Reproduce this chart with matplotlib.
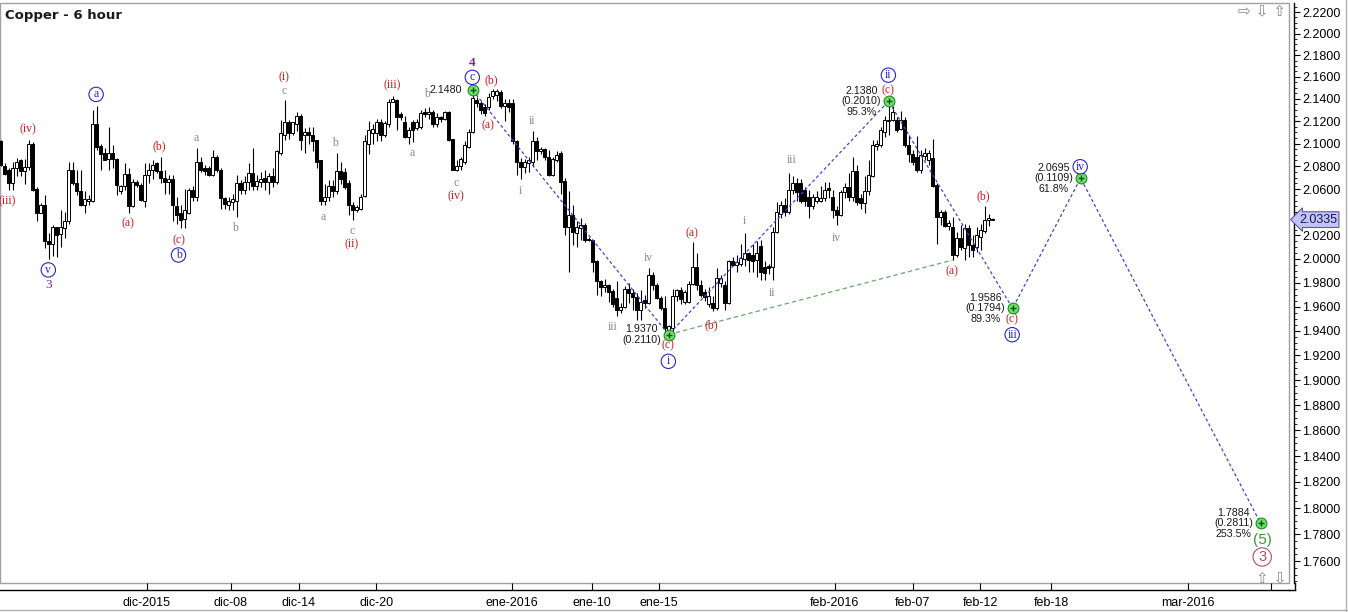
import numpy as np
import matplotlib
matplotlib.use('Agg')
import matplotlib.pyplot as plt
from matplotlib.ticker import FixedLocator, FuncFormatter, NullFormatter
from matplotlib.patches import Rectangle
from matplotlib.lines import Line2D

# 6-hour candles, one per bar index
opens = [
    2.102, 2.080, 2.077, 2.065, 2.078, 2.085, 2.076, 2.0795, 2.0995, 2.060,
    2.0395, 2.046, 2.015, 2.013, 2.027, 2.021, 2.026, 2.032, 2.0766, 2.0655,
    2.0585, 2.046, 2.050, 2.050, 2.117, 2.098, 2.092, 2.086, 2.092, 2.086,
    2.058, 2.063, 2.073, 2.045, 2.066, 2.0635, 2.050, 2.072, 2.0766, 2.0825,
    2.076, 2.070, 2.0665, 2.069, 2.045, 2.039, 2.034, 2.039, 2.059, 2.053,
    2.084, 2.078, 2.078, 2.072, 2.088, 2.077, 2.052, 2.046, 2.049, 2.050,
    2.065, 2.059, 2.066, 2.074, 2.063, 2.066, 2.070, 2.066, 2.071, 2.066,
    2.092, 2.108, 2.119, 2.109, 2.117, 2.125, 2.108, 2.110, 2.108, 2.103,
    2.085, 2.050, 2.053, 2.063, 2.058, 2.076, 2.075, 2.065, 2.046, 2.042,
    2.043, 2.054, 2.100, 2.109, 2.109, 2.119, 2.108, 2.117, 2.137, 2.139,
    2.126, 2.119, 2.106, 2.119, 2.114, 2.115, 2.128, 2.126, 2.128, 2.117,
    2.124, 2.122, 2.128, 2.104, 2.077, 2.080, 2.084, 2.097, 2.110, 2.139,
    2.136, 2.133, 2.133, 2.1425, 2.1435, 2.146, 2.134, 2.136, 2.136, 2.102,
    2.084, 2.079, 2.083, 2.084, 2.102, 2.093, 2.095, 2.088, 2.072, 2.085,
    2.092, 2.067, 2.0275, 2.0375, 2.022, 2.026, 2.029, 2.017, 2.016, 1.998,
    1.981, 1.976, 1.978, 1.973, 1.967, 1.957, 1.960, 1.975, 1.971, 1.968,
    1.957, 1.9657, 1.963, 1.9865, 1.978, 1.967, 1.959, 1.941, 1.9425, 1.969,
    1.9735, 1.964, 1.964, 1.979, 1.993, 1.978, 1.972, 1.962, 1.963, 1.959,
    1.980, 1.978, 1.963, 1.998, 1.995, 1.996, 2.000, 2.005, 2.003, 1.999,
    2.011, 1.993, 1.994, 1.993, 2.023, 2.0385, 2.046, 2.040, 2.059, 2.065,
    2.065, 2.059, 2.053, 2.045, 2.050, 2.050, 2.052, 2.061, 2.053, 2.042,
    2.0375, 2.057, 2.062, 2.053, 2.076, 2.052, 2.048, 2.058, 2.071, 2.098,
    2.099, 2.110, 2.120, 2.121, 2.121, 2.113, 2.121, 2.099, 2.091, 2.088,
    2.077, 2.089, 2.085, 2.087, 2.0635, 2.036, 2.040, 2.028, 2.027, 2.003,
    2.0175, 2.009, 2.026, 2.012, 2.010, 2.019, 2.0235, 2.033, 2.0335]
highs = [
    2.103, 2.083, 2.078, 2.084, 2.087, 2.086, 2.086, 2.103, 2.101, 2.062,
    2.0475, 2.055, 2.022, 2.029, 2.0275, 2.042, 2.040, 2.084, 2.084, 2.0766,
    2.0766, 2.058, 2.055, 2.130, 2.134, 2.0995, 2.096, 2.1145, 2.0986, 2.087,
    2.0635, 2.0825, 2.078, 2.069, 2.068, 2.065, 2.083, 2.0825, 2.0854, 2.084,
    2.088, 2.0766, 2.072, 2.072, 2.053, 2.046, 2.060, 2.061, 2.063, 2.096,
    2.088, 2.081, 2.080, 2.094, 2.090, 2.078, 2.053, 2.053, 2.056, 2.072,
    2.068, 2.071, 2.083, 2.096, 2.072, 2.075, 2.077, 2.074, 2.078, 2.094,
    2.121, 2.139, 2.121, 2.119, 2.128, 2.126, 2.114, 2.115, 2.115, 2.103,
    2.085, 2.064, 2.068, 2.068, 2.092, 2.084, 2.078, 2.068, 2.049, 2.046,
    2.056, 2.108, 2.120, 2.117, 2.122, 2.1215, 2.120, 2.140, 2.143, 2.140,
    2.128, 2.125, 2.115, 2.121, 2.122, 2.130, 2.132, 2.133, 2.130, 2.127,
    2.125, 2.129, 2.129, 2.104, 2.085, 2.088, 2.102, 2.113, 2.148, 2.142,
    2.138, 2.135, 2.145, 2.149, 2.149, 2.148, 2.140, 2.140, 2.140, 2.103,
    2.087, 2.086, 2.088, 2.111, 2.106, 2.097, 2.096, 2.094, 2.088, 2.093,
    2.093, 2.070, 2.058, 2.046, 2.032, 2.035, 2.031, 2.019, 2.016, 1.999,
    1.982, 1.983, 1.979, 1.975, 1.981, 1.963, 1.977, 1.980, 1.975, 1.971,
    1.974, 1.970, 1.992, 1.989, 1.980, 1.969, 1.969, 1.945, 1.975, 1.975,
    1.976, 1.974, 1.981, 2.014, 2.005, 1.982, 1.975, 1.976, 1.969, 1.992,
    1.986, 1.981, 1.999, 2.002, 2.003, 2.013, 2.022, 2.006, 2.013, 2.015,
    2.016, 1.998, 1.996, 2.027, 2.049, 2.050, 2.052, 2.074, 2.071, 2.070,
    2.069, 2.062, 2.059, 2.056, 2.058, 2.063, 2.066, 2.066, 2.059, 2.045,
    2.059, 2.065, 2.074, 2.088, 2.081, 2.056, 2.071, 2.085, 2.103, 2.103,
    2.115, 2.125, 2.138, 2.134, 2.124, 2.129, 2.124, 2.108, 2.094, 2.107,
    2.094, 2.096, 2.094, 2.104, 2.065, 2.042, 2.042, 2.033, 2.036, 2.023,
    2.029, 2.030, 2.029, 2.020, 2.0275, 2.030, 2.045, 2.038, 2.0345]
lows = [
    2.080, 2.072, 2.059, 2.059, 2.071, 2.071, 2.064, 2.0766, 2.0585, 2.032,
    2.039, 2.009, 1.9995, 2.0025, 2.002, 2.010, 2.0175, 2.030, 2.0635, 2.055,
    2.045, 2.0395, 2.046, 2.049, 2.094, 2.0766, 2.085, 2.0766, 2.078, 2.055,
    2.056, 2.059, 2.0395, 2.044, 2.062, 2.050, 2.044, 2.065, 2.069, 2.074,
    2.065, 2.056, 2.056, 2.032, 2.030, 2.026, 2.026, 2.038, 2.050, 2.050,
    2.075, 2.072, 2.071, 2.071, 2.075, 2.043, 2.043, 2.042, 2.042, 2.036,
    2.056, 2.056, 2.059, 2.059, 2.059, 2.062, 2.059, 2.056, 2.062, 2.064,
    2.090, 2.103, 2.104, 2.108, 2.111, 2.094, 2.092, 2.100, 2.093, 2.078,
    2.046, 2.046, 2.050, 2.053, 2.056, 2.064, 2.060, 2.0375, 2.033, 2.040,
    2.042, 2.053, 2.091, 2.100, 2.102, 2.102, 2.106, 2.115, 2.137, 2.112,
    2.121, 2.105, 2.100, 2.101, 2.112, 2.113, 2.124, 2.122, 2.115, 2.115,
    2.119, 2.121, 2.102, 2.077, 2.076, 2.077, 2.082, 2.096, 2.109, 2.133,
    2.126, 2.125, 2.130, 2.140, 2.138, 2.132, 2.120, 2.128, 2.100, 2.072,
    2.069, 2.074, 2.075, 2.079, 2.085, 2.091, 2.085, 2.071, 2.071, 2.084,
    2.056, 2.020, 1.989, 2.012, 2.010, 2.016, 2.014, 2.015, 1.989, 1.970,
    1.969, 1.972, 1.964, 1.960, 1.952, 1.955, 1.959, 1.963, 1.957, 1.949,
    1.949, 1.959, 1.962, 1.974, 1.966, 1.957, 1.9395, 1.937, 1.940, 1.9645,
    1.962, 1.962, 1.963, 1.978, 1.974, 1.968, 1.965, 1.960, 1.956, 1.957,
    1.976, 1.957, 1.962, 1.994, 1.989, 1.994, 1.994, 1.989, 1.989, 1.985,
    1.982, 1.982, 1.987, 1.982, 2.022, 2.035, 2.037, 2.038, 2.056, 2.050,
    2.048, 2.045, 2.035, 2.043, 2.048, 2.049, 2.050, 2.052, 2.035, 2.029,
    2.037, 2.052, 2.050, 2.050, 2.046, 2.043, 2.039, 2.055, 2.0705, 2.094,
    2.097, 2.106, 2.1075, 2.120, 2.110, 2.112, 2.097, 2.084, 2.081, 2.075,
    2.074, 2.085, 2.081, 2.062, 2.013, 2.029, 2.027, 2.025, 1.999, 2.002,
    2.0075, 1.999, 2.002, 2.002, 2.006, 2.0076, 2.022, 2.028, 2.0335]
closes = [
    2.081, 2.073, 2.065, 2.078, 2.084, 2.076, 2.0795, 2.0995, 2.059, 2.0395,
    2.046, 2.015, 2.013, 2.027, 2.020, 2.027, 2.032, 2.0766, 2.065, 2.0585,
    2.046, 2.051, 2.051, 2.117, 2.097, 2.091, 2.0854, 2.092, 2.086, 2.0635,
    2.063, 2.073, 2.045, 2.066, 2.0635, 2.0505, 2.072, 2.0766, 2.081, 2.076,
    2.070, 2.0665, 2.069, 2.046, 2.0375, 2.033, 2.042, 2.059, 2.053, 2.084,
    2.077, 2.076, 2.072, 2.088, 2.077, 2.052, 2.047, 2.050, 2.051, 2.065,
    2.059, 2.066, 2.074, 2.063, 2.067, 2.069, 2.066, 2.071, 2.066, 2.093,
    2.109, 2.119, 2.109, 2.119, 2.125, 2.103, 2.110, 2.108, 2.102, 2.084,
    2.050, 2.053, 2.063, 2.058, 2.076, 2.069, 2.062, 2.046, 2.042, 2.044,
    2.053, 2.102, 2.112, 2.113, 2.119, 2.108, 2.118, 2.137, 2.140, 2.124,
    2.124, 2.106, 2.112, 2.112, 2.119, 2.127, 2.126, 2.128, 2.117, 2.124,
    2.122, 2.128, 2.103, 2.077, 2.080, 2.086, 2.099, 2.110, 2.141, 2.136,
    2.130, 2.127, 2.142, 2.147, 2.147, 2.134, 2.136, 2.133, 2.102, 2.084,
    2.079, 2.084, 2.085, 2.102, 2.093, 2.095, 2.088, 2.072, 2.086, 2.090,
    2.066, 2.0275, 2.0375, 2.023, 2.027, 2.029, 2.016, 2.016, 1.997, 1.981,
    1.976, 1.978, 1.9725, 1.962, 1.957, 1.960, 1.975, 1.971, 1.968, 1.957,
    1.9635, 1.963, 1.9865, 1.978, 1.967, 1.959, 1.942, 1.944, 1.969, 1.9735,
    1.966, 1.9725, 1.979, 1.993, 1.978, 1.970, 1.968, 1.969, 1.959, 1.984,
    1.984, 1.963, 1.998, 1.995, 1.997, 2.001, 2.005, 1.999, 1.998, 2.005,
    1.989, 1.988, 1.992, 2.023, 2.040, 2.046, 2.040, 2.059, 2.065, 2.057,
    2.050, 2.050, 2.045, 2.053, 2.053, 2.052, 2.059, 2.059, 2.042, 2.0375,
    2.057, 2.062, 2.053, 2.076, 2.049, 2.048, 2.058, 2.072, 2.099, 2.100,
    2.112, 2.121, 2.121, 2.128, 2.112, 2.121, 2.099, 2.091, 2.084, 2.077,
    2.090, 2.092, 2.092, 2.063, 2.036, 2.040, 2.028, 2.031, 2.003, 2.0175,
    2.010, 2.026, 2.012, 2.0076, 2.020, 2.0245, 2.033, 2.035, 2.0335]
last_price = 2.0335

# projected wave path (bar index, price) and its labels
path_idx = [118, 167, 222, 253, 270, 315]
path_price = [2.1480, 1.9370, 2.1380, 1.9586, 2.0695, 1.7884]
path_text = ['2.1480', '1.9370\n(0.2110)', '2.1380\n(0.2010)\n95.3%',
             '1.9586\n(0.1794)\n89.3%', '2.0695\n(0.1109)\n61.8%',
             '1.7884\n(0.2811)\n253.5%']
base_idx = [167, 238]
base_price = [1.9370, 1.9990]

tick_idx = [36.6, 57.6, 74.6, 93.9, 127.9, 147.9, 164.6, 208.6, 228.1,
            244.9, 262.7, 296.8, 317.6]
tick_labels = ['dic-2015', 'dic-08', 'dic-14', 'dic-20', 'ene-2016', 'ene-10',
               'ene-15', 'feb-2016', 'feb-07', 'feb-12', 'feb-18', 'mar-2016', '']

# wave labels: (bar index, price, text)
red_labels = [(1.7, 2.0495, '(iii)'), (6.8, 2.1126, '(iv)'), (31.8, 2.0303, '(a)'),
              (39.6, 2.0977, '(b)'), (44.5, 2.0161, '(c)'), (70.9, 2.1601, '(i)'),
              (87.8, 2.0124, '(ii)'), (97.8, 2.1525, '(iii)'), (113.8, 2.0539, '(iv)'),
              (121.8, 2.1165, '(a)'), (122.8, 2.1571, '(b)'), (166.95, 1.9279, '(c)'),
              (172.8, 2.0218, '(a)'), (177.6, 1.9443, '(b)'), (221.95, 2.1474, '(c)'),
              (237.8, 1.9893, '(a)'), (245.7, 2.0533, '(b)'), (252.9, 1.9492, '(c)')]
gray_labels = [(48.9, 2.1051, 'a'), (58.7, 2.0260, 'b'), (70.9, 2.1474, 'c'),
               (80.7, 2.0360, 'a'), (83.6, 2.1001, 'b'), (87.8, 2.0240, 'c'),
               (102.95, 2.0913, 'a'), (106.7, 2.1444, 'b'), (113.8, 2.0650, 'c'),
               (129.95, 2.0585, 'i'), (132.8, 2.1203, 'ii'), (152.95, 1.9431, 'iii'),
               (161.95, 2.0005, 'iv'), (185.95, 2.0323, 'i'), (192.8, 1.9712, 'ii'),
               (197.9, 2.0854, 'iii'), (208.9, 2.0181, 'iv')]
circle_labels = [(11.95, 1.9907, 'v'), (23.9, 2.1441, 'a'), (44.5, 2.0033, 'b'),
                 (117.95, 2.1596, 'c'), (166.95, 1.9152, 'i'), (221.95, 2.1616, 'ii'),
                 (252.9, 1.9369, 'iii'), (269.9, 2.0795, 'iv')]
degree_labels = [(11.95, 1.9782, '3'), (117.95, 2.1724, '4')]

W, H = 1348, 612
RED = '#cc1c1c'
GRAY = '#8a8a8a'
BLUE = '#2626c8'
PURPLE = '#7a2a8c'

plt.rcParams['font.family'] = ['Liberation Sans', 'DejaVu Sans']

fig = plt.figure(figsize=(W / 100, H / 100), dpi=100)
ax = fig.add_axes([0, 1 - 583 / H, 1289 / W, 580 / H])
ax.set_yscale('log')
ax.set_xlim(-0.125, 322.1)
ax.set_ylim(1.7438, 2.2286)

o = np.array(opens)
h = np.array(highs)
l = np.array(lows)
c = np.array(closes)
x = np.arange(len(c))
up = c >= o

ax.vlines(x, l, h, color='black', lw=0.8, zorder=2)
ax.bar(x[up], np.maximum(c[up] - o[up], 0.0003), bottom=o[up], width=0.55,
       facecolor='white', edgecolor='black', lw=0.7, zorder=3)
ax.bar(x[~up], o[~up] - c[~up], bottom=c[~up], width=0.55,
       facecolor='black', edgecolor='black', lw=0.7, zorder=3)

# wave path lines
ax.plot(path_idx, path_price, color='#4444d4', lw=0.9, dashes=(2.5, 2), zorder=4)
ax.plot(base_idx, base_price, color='#6aa86a', lw=0.9, dashes=(3.5, 2.5), zorder=4)
ax.scatter(path_idx, path_price, s=60, facecolor='#6ee06e', edgecolor='#1c8c1c',
           lw=0.8, zorder=6)
ax.scatter(path_idx, path_price, s=24, marker='+', color='#0f4f0f', lw=1.0, zorder=7)

for i, p, s in zip(path_idx, path_price, path_text):
    ax.annotate(s, xy=(i, p), xytext=(-27, 0), textcoords='offset pixels',
                ha='center', va='center', multialignment='center',
                fontsize=7.7, color='#1a1a1a', linespacing=1.05, zorder=8)

for i, p, s in red_labels:
    ax.text(i, p, s, color=RED, ha='center', va='center', fontsize=8.5,
            family='Liberation Serif', zorder=8)
for i, p, s in gray_labels:
    ax.text(i, p, s, color=GRAY, ha='center', va='center', fontsize=8.5,
            family='Liberation Serif', zorder=8)
for i, p, s in circle_labels:
    ax.text(i, p, s, color=BLUE, ha='center', va='center', fontsize=8.5,
            family='Liberation Serif', zorder=8,
            bbox=dict(boxstyle='circle,pad=0.1', fc='white', ec=BLUE, lw=0.8))
for i, p, s in degree_labels:
    ax.text(i, p, s, color=PURPLE, ha='center', va='center', fontsize=9.5,
            family='Liberation Serif', fontweight='bold' if s == '4' else 'normal',
            zorder=8)

ax.text(315.4, 1.7761, '(5)', color='#3a9a3a', ha='center', va='center',
        fontsize=11, zorder=8)
ax.text(315.4, 1.7631, '3', color='#b04c72', ha='center', va='center',
        fontsize=10.5, zorder=8,
        bbox=dict(boxstyle='circle,pad=0.15', fc='white', ec='#b04c72', lw=0.8))

# axes styling
for s in ['left', 'top']:
    ax.spines[s].set_visible(False)
ax.spines['right'].set_position(('outward', 3.6))
ax.spines['bottom'].set_position(('outward', 5))
for s in ['right', 'bottom']:
    ax.spines[s].set_color('black')
    ax.spines[s].set_linewidth(1.0)
ax.add_patch(Rectangle((0, 0), 1, 1, transform=ax.transAxes, fill=False,
                       ec='#a0a0a0', lw=1, clip_on=False, zorder=1))

majors = [round(v, 2) for v in np.arange(1.76, 2.2201, 0.02)]
minors = [round(v, 3) for v in np.arange(1.745, 2.228, 0.005)
          if min(abs(v - m) for m in majors) > 0.001]


def ylabel(v, pos):
    # the 2.0400 label sits under the current-price tag
    if abs(v - 2.04) < 1e-6:
        return ''
    return f'{v:.4f}'


ax.yaxis.tick_right()
ax.yaxis.set_major_locator(FixedLocator(majors))
ax.yaxis.set_major_formatter(FuncFormatter(ylabel))
ax.yaxis.set_minor_locator(FixedLocator(minors))
ax.yaxis.set_minor_formatter(NullFormatter())
ax.tick_params(axis='y', which='major', direction='out', length=4, width=0.8,
               pad=2, labelsize=9, right=True, left=False)
ax.tick_params(axis='y', which='minor', direction='out', length=2, width=0.6,
               right=True, left=False)

ax.set_xticks(tick_idx)
ax.set_xticklabels(tick_labels)
ax.tick_params(axis='x', which='major', direction='in', length=5, width=0.8,
               pad=5, labelsize=9)

# current price tag
ax.text(1.0078, last_price, f'{last_price:.4f}', transform=ax.get_yaxis_transform(),
        ha='left', va='center', fontsize=9, color='#14145a', clip_on=False, zorder=10,
        bbox=dict(boxstyle='larrow,pad=0.15', fc='#c4c4f4', ec='#5a5aa8', lw=0.8))

# corner of the two axis lines and window border
fig.add_artist(Line2D([1289 / W, 1295 / W], [1 - 590 / H] * 2, color='black', lw=1.0))
fig.add_artist(Line2D([1294.5 / W] * 2, [1 - 583 / H, 1 - 590 / H], color='black', lw=1.0))
fig.add_artist(Line2D([0, 1], [1 - 610 / H] * 2, color='#b0b0b0', lw=1.0))
fig.add_artist(Line2D([1346 / W] * 2, [0, 1], color='#b0b0b0', lw=1.0))

fig.text(5 / W, 1 - 15 / H, 'Copper - 6 hour', fontweight='bold', fontsize=9.5,
         family='DejaVu Sans', va='center', ha='left', color='#1a1a1a')
fig.text(1262 / W, 1 - 12 / H, '\u21e8 \u21e9 \u21e7', family='DejaVu Sans',
         fontsize=11, color='#8a8a8a', ha='center', va='center')
fig.text(1271 / W, 1 - 579 / H, '\u21e7 \u21e9', family='DejaVu Sans',
         fontsize=11, color='#8a8a8a', ha='center', va='center')

fig.savefig('out.png', dpi=100)
